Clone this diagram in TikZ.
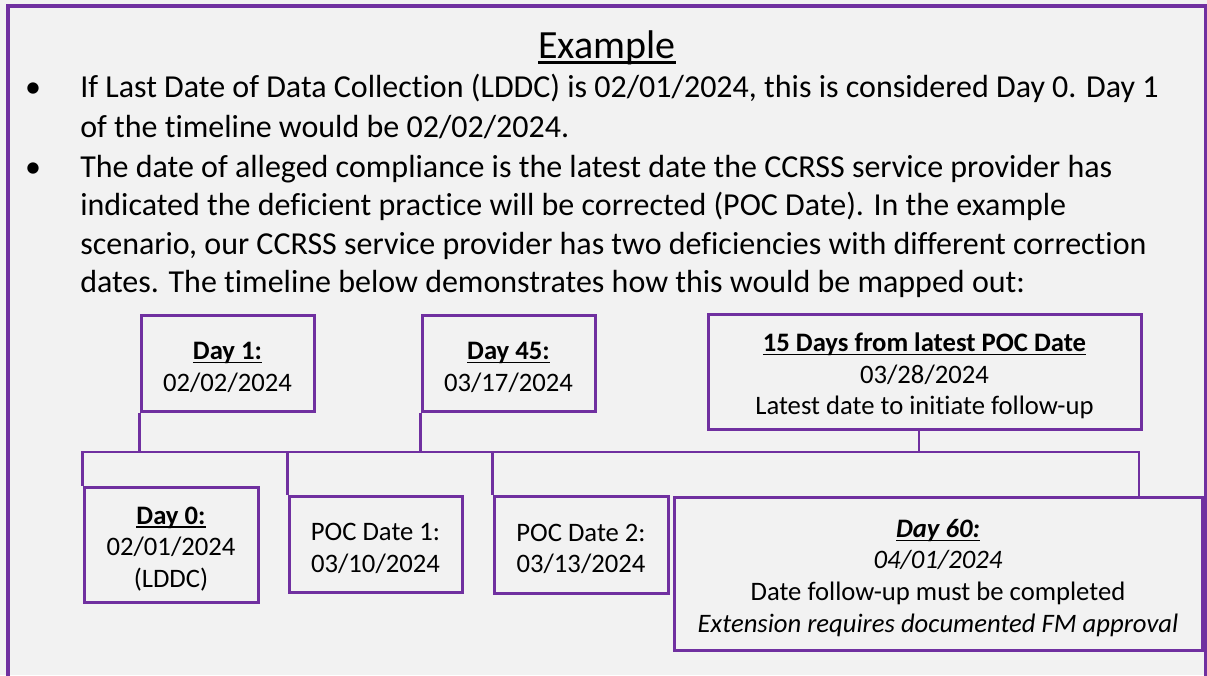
\documentclass[tikz,border=0pt]{standalone}
\usepackage{fontspec}
\setmainfont{Carlito}[Ligatures={NoCommon}]
\usetikzlibrary{fit}
\definecolor{framepurple}{HTML}{7030A0}
\definecolor{paper}{HTML}{F2F2F2}
% underline drawn as a rule sized to the text
\newcommand{\uln}[1]{\setbox0\hbox{#1}\rlap{\rule[-0.14em]{\wd0}{0.055em}}\box0}
\newcommand{\bodysize}{\fontsize{24}{26.5}\selectfont}
\newcommand{\boxsize}{\fontsize{20}{23.8}\selectfont}

\tikzset{
  bodyline/.style={anchor=base west, inner sep=0pt, font=\bodysize},
  bulletmark/.style={anchor=base, inner sep=0pt, font=\bodysize},
  datebox/.style={draw=framepurple, line width=2.25pt, inner sep=0pt},
  boxtext/.style={inner sep=0pt, align=center, font=\boxsize, anchor=center, yshift=-3.3pt},
  link/.style={draw=framepurple, line width=2.1pt}
}

\begin{document}
\begin{tikzpicture}[x=0.75pt, y=-0.75pt]
  \useasboundingbox (0,0) rectangle (1207,675);
  \fill[paper] (0,0) rectangle (1207,675);
  % outer frame, open at the bottom
  \draw[framepurple, line width=3pt] (8,676) -- (8,6) -- (1206,6) -- (1206,676);

  % heading
  \node[anchor=base, inner sep=0pt, font=\fontsize{30}{36}\selectfont]
    (title) at (607,58) {\uln{Example}};

  % bulleted explanation
  \node[bulletmark] (b1) at (33,97) {\textbullet};
  \node[bodyline] (l1) at (80,97) {If Last Date of Data Collection (LDDC) is 02/01/2024, this is considered Day 0. Day 1};
  \node[bodyline] (l2) at (80,137) {of the timeline would be 02/02/2024.};
  \node[bulletmark] (b2) at (33,177) {\textbullet};
  \node[bodyline] (l3) at (80,177) {The date of alleged compliance is the latest date the CCRSS service provider has};
  \node[bodyline] (l4) at (80,215) {indicated the deficient practice will be corrected (POC Date). In the example};
  \node[bodyline] (l5) at (80,254) {scenario, our CCRSS service provider has two deficiencies with different correction};
  \node[bodyline] (l6) at (80,292) {dates. The timeline below demonstrates how this would be mapped out:};

  % upper row of dates
  \node[datebox, fit={(141,315) (314,411)}] (d1) {};
  \node[datebox, fit={(422,315) (595,411)}] (d45) {};
  \node[datebox, fit={(708,314) (1141,429)}] (d15) {};
  \node[boxtext] (d1t) at (d1.center) {\textbf{\uln{Day 1:}}\\02/02/2024};
  \node[boxtext] (d45t) at (d45.center) {\textbf{\uln{Day 45:}}\\03/17/2024};
  \node[boxtext] (d15t) at (d15.center)
    {\textbf{\uln{15 Days from latest POC Date}}\\03/28/2024\\Latest date to initiate follow-up};

  % lower row of dates
  \node[datebox, fit={(84,487) (258,602)}] (d0) {};
  \node[datebox, fit={(289,496) (462,592)}] (p1) {};
  \node[datebox, fit={(494,496) (668,593)}] (p2) {};
  \node[datebox, fit={(674,497) (1202,650)}] (d60) {};
  \node[boxtext] (d0t) at (d0.center) {\textbf{\uln{Day 0:}}\\02/01/2024\\(LDDC)};
  \node[boxtext] (p1t) at (p1.center) {POC Date 1:\\03/10/2024};
  \node[boxtext] (p2t) at (p2.center) {POC Date 2:\\03/13/2024};
  \node[boxtext] (d60t) at (d60.center)
    {\textit{\textbf{\uln{Day 60:}}}\\\textit{04/01/2024}\\Date follow-up must be completed\\\textit{Extension requires documented FM approval}};

  % timeline bus and its branches
  \coordinate (busL) at (84,452);
  \coordinate (busR) at (1139,452);
  \coordinate (d15drop) at (919,429);
  \draw[link] (d0.north west) |- (busR) -- (busR |- d60.north);
  \draw[link] (d1.south west) -- (d1.south west |- busL);
  \draw[link] (d45.south west) -- (d45.south west |- busL);
  \draw[link] (d15drop) -- (d15drop |- busL);
  \draw[link] (p1.north west) -- (p1.north west |- busL);
  \draw[link] (p2.north west) -- (p2.north west |- busL);
\end{tikzpicture}
\end{document}
